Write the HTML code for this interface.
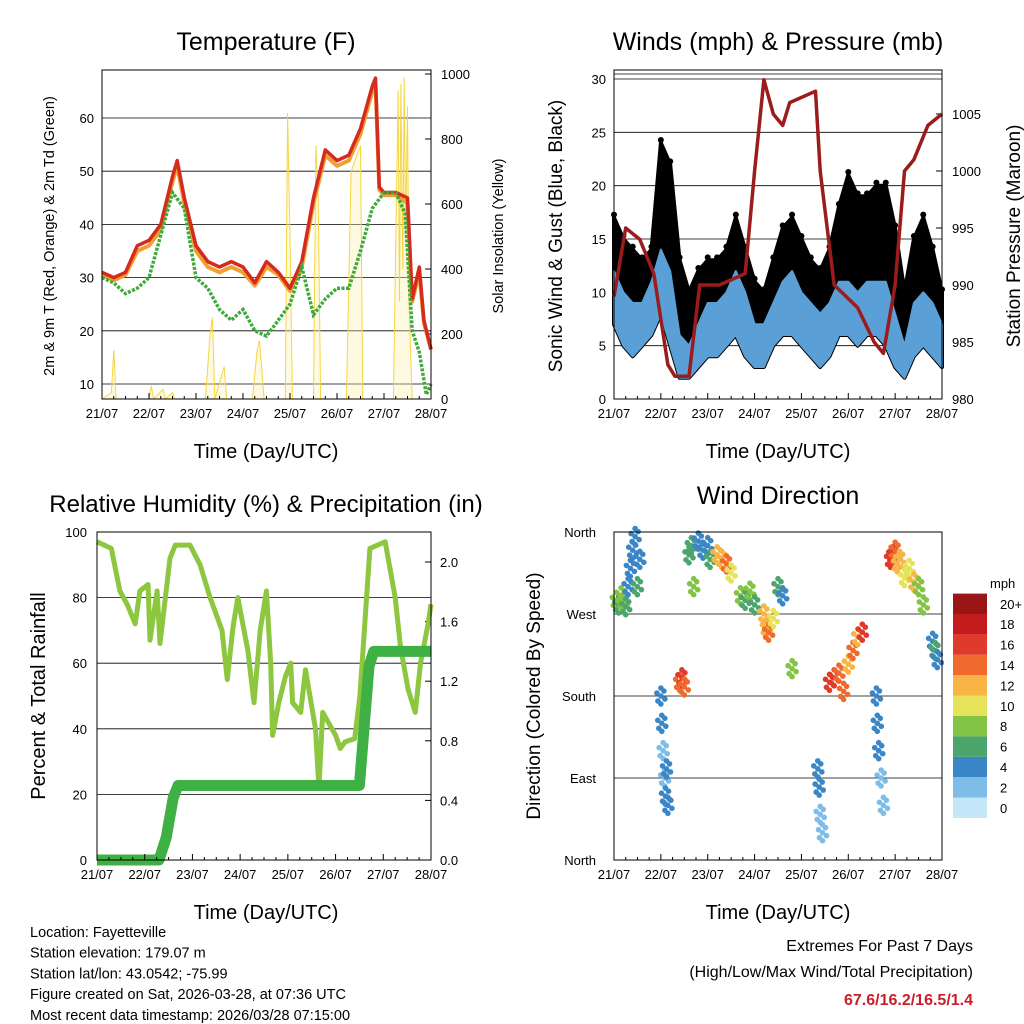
<!DOCTYPE html>
<html><head><meta charset="utf-8"><style>
html,body{margin:0;padding:0;background:#fff;}
svg{display:block;font-family:"Liberation Sans",sans-serif;}
</style></head><body>
<svg id="s" width="1024" height="1024" viewBox="0 0 1024 1024" xmlns="http://www.w3.org/2000/svg">
<rect width="1024" height="1024" fill="#fff"/>
</svg>
<script>
// ---------------- DATA ----------------
const dayLabels = ["21/07","22/07","23/07","24/07","25/07","26/07","27/07","28/07"];
// Temperature panel
const tTimes = [0,0.25,0.5,0.75,1,1.25,1.5,1.6,1.75,2,2.25,2.5,2.75,3,3.25,3.5,3.75,4,4.25,4.5,4.75,5,5.25,5.5,5.75,5.82,5.9,6,6.25,6.5,6.6,6.75,6.85,7];
const tempRed = [31,30,31,36,37,40,49,52,45,36,33,32,33,32,29,33,31,28,33,45,54,52,53,58,66,67.5,47,46,46,45,26,32,22,16.5];
const tempOrange = [30.5,29.5,30.5,35,36,39,48,51,44,35,32,31,32,31,28.5,32,30.5,27.5,32,44,53,51,52,57,65,66.5,46.5,45.5,45.5,44,25.5,31,21.5,16.5];
const dewTimes = [0,0.25,0.5,0.75,1,1.25,1.5,1.75,2,2.25,2.5,2.75,3,3.25,3.5,3.75,4,4.25,4.5,4.75,5,5.25,5.5,5.75,6,6.25,6.45,6.6,6.75,6.9,7];
const dewGreen = [30,29,27,28,30,38,46,43,30,28,24,22,24,20,19,22,25,32,23,26,28,28,35,43,46,46,42,20,16,8,10];
const solarT = [0,0.2,0.25,0.3,0.45,0.5,1.0,1.05,1.1,1.3,1.35,1.5,1.55,2.2,2.3,2.35,2.4,2.6,2.65,3.2,3.3,3.35,3.45,3.5,3.9,3.95,4.0,4.05,4.5,4.55,4.6,4.65,4.8,5.2,5.3,5.45,5.5,5.55,6.2,6.3,6.33,6.36,6.4,6.43,6.46,6.5,6.53,6.6,7.0];
const solarV = [0,20,150,0,0,0,0,40,0,30,0,20,0,0,200,250,0,100,0,0,150,180,0,0,0,880,500,0,0,780,620,0,0,0,700,760,780,0,0,950,300,970,400,990,500,900,300,0,0];
// Wind panel
const wTimes = [0,0.2,0.4,0.6,0.8,1.0,1.2,1.4,1.6,1.8,2.0,2.2,2.4,2.6,2.8,3.0,3.2,3.4,3.6,3.8,4.0,4.2,4.4,4.6,4.8,5.0,5.2,5.4,5.6,5.8,6.0,6.2,6.4,6.6,6.8,7.0];
const windLow = [7,5,4,5,6,8,5,2,2,3,4,4,5,6,4,3,3,5,6,6,5,4,3,4,6,6,5,6,6,5,3,2,4,5,4,3];
const windHigh = [12,10,9,9,11,14,12,6,5,7,9,9,10,12,10,7,7,9,11,12,10,9,8,9,11,11,10,11,11,11,8,5,9,10,9,7];
const gustBlack = [17,15,14,13,14,24,22,13,10,12,13,13,14,17,14,11,10,13,16,17,15,13,12,14,18,21,19,19,20,20,16,10,15,17,14,10];
const pTimes = [0,0.25,0.55,0.85,1.15,1.3,1.6,1.83,2.25,2.8,3.0,3.2,3.4,3.6,3.75,4.3,4.4,4.7,5.2,5.55,5.75,6.0,6.2,6.4,6.7,7];
const pressure = [989,995,994,991,983,982,982,990,990,991,1000,1008,1005,1004,1006,1007,1000,990,988,985,984,990,1000,1001,1004,1005];
// RH panel
const rhTimes = [0,0.3,0.48,0.63,0.8,0.9,1.07,1.11,1.26,1.32,1.53,1.64,1.95,2.16,2.37,2.62,2.73,2.85,2.95,3.16,3.29,3.42,3.55,3.64,3.68,3.81,3.95,4.06,4.1,4.27,4.37,4.58,4.65,4.73,5.0,5.1,5.2,5.4,5.51,5.72,6.04,6.25,6.36,6.52,6.67,6.78,6.94,7];
const rhValues = [97,95,82,78,72,82,84,67,82,66,92,96,96,90,80,70,55,71,80,64,48,70,82,60,38,48,56,60,48,45,58,40,22,45,38,34,36,37,50,95,97,80,65,52,45,60,72,78];
const prTimes = [0,1.3,1.45,1.6,1.7,5.5,5.6,5.7,5.8,7];
const precip = [0,0,0.15,0.42,0.5,0.5,0.9,1.3,1.4,1.4];
// Wind direction panel
const wdDay = [0.05,0.1,0.15,0.2,0.25,0.3,0.35,0.4,0.45,0.5,0.55,1.0,1.02,1.05,1.08,1.1,1.12,1.15,1.4,1.45,1.5,1.6,1.65,1.7,1.8,1.9,2.0,2.05,2.2,2.3,2.4,2.5,2.7,2.8,2.9,3.0,3.2,3.25,3.3,3.4,3.5,3.6,3.8,4.35,4.38,4.4,4.45,4.6,4.7,4.8,4.9,5.0,5.1,5.2,5.3,5.6,5.62,5.65,5.7,5.75,5.9,5.95,6.0,6.05,6.1,6.2,6.3,6.4,6.5,6.6,6.8,6.85,6.9];
const wdDir = [285,280,290,283,278,300,320,340,355,300,330,180,150,120,90,70,100,60,195,200,190,335,345,300,350,340,345,330,335,330,325,315,290,285,295,280,270,255,250,265,300,290,210,100,80,50,30,195,200,205,185,215,230,245,250,180,150,120,90,60,330,335,340,325,330,310,320,305,300,280,240,230,220];
const wdSpeed = [7,6,8,7,6,4,4,3,3,5,3,4,3,2,2,3,4,3,14,15,13,5,6,7,4,4,3,5,11,12,13,10,7,6,8,6,11,12,14,10,5,4,7,4,3,2,2,15,16,13,14,12,13,11,15,4,3,3,2,2,15,16,14,12,11,10,9,11,8,7,4,5,4];
const cbLabels = ["0","2","4","6","8","10","12","14","16","18","20+"];
const cbColors = ["#c3e6f8","#7dbde8","#3b86c6","#4ca56c","#84c444","#e6e25a","#f8b444","#ef6a2c","#df3a2a","#c41c1c","#9a1616"];

// ---------------- HELPERS ----------------
const S = document.getElementById('s');
const NS = "http://www.w3.org/2000/svg";
function mk(tag, attrs, parent){ const e=document.createElementNS(NS,tag); for(const k in attrs) e.setAttribute(k,attrs[k]); (parent||S).appendChild(e); return e; }
function txt(x,y,t,size,anchor,extra){ const e=mk('text',Object.assign({x:x,y:y,'font-size':size,'text-anchor':anchor||'middle',fill:'#000'},extra||{})); e.textContent=t; return e; }
function lin(d0,d1,r0,r1){ return v => r0 + (v-d0)/(d1-d0)*(r1-r0); }
function colorFor(sp){ let i=Math.min(10,Math.max(0,Math.round(sp/2))); return cbColors[i]; }
function path(xs,ys,X,Y){ return xs.map((t,i)=>(i?'L':'M')+X(t).toFixed(1)+' '+Y(ys[i]).toFixed(1)).join(' '); }
function band(xs,lo,hi,X,Y){
  let d=xs.map((t,i)=>(i?'L':'M')+X(t).toFixed(1)+' '+Y(hi[i]).toFixed(1)).join(' ');
  for(let i=xs.length-1;i>=0;i--) d+=' L'+X(xs[i]).toFixed(1)+' '+Y(lo[i]).toFixed(1);
  return d+' Z';
}
function frame(x0,y0,x1,y1,name){
  const r=mk('rect',{x:x0,y:y0,width:x1-x0,height:y1-y0,fill:'none',stroke:'#000','stroke-width':1});
  
  
}
function xAxis(X,yb,name){
  const g=mk('g',{});
  
  
  dayLabels.forEach((l,i)=>{ const x=X(i); mk('line',{x1:x,x2:x,y1:yb,y2:yb-6,stroke:'#000'},g);
    for(let k=1;k<4&&i<7;k++){const xm=X(i+k/4); mk('line',{x1:xm,x2:xm,y1:yb,y2:yb-3,stroke:'#000'},g);}
    const t=txt(x,yb+19,l,13,'middle'); g.appendChild(t);});
}

// ================= PANEL 1: TEMPERATURE =================
(function(){
  const x0=102,x1=431,y0=70,y1=399;
  const X=lin(0,7,x0,x1), Y=lin(10,60,384,118), YS=lin(0,1000,399,74);
  const g=mk('g',{});  
  [10,20,30,40,50,60].forEach(v=>{ mk('line',{x1:x0,x2:x1,y1:Y(v),y2:Y(v),stroke:'#000','stroke-width':0.8},g);
    const t=txt(x0-8,Y(v)+5,String(v),13,'end'); g.appendChild(t);});
  [0,200,400,600,800,1000].forEach(v=>{ mk('line',{x1:x1,x2:x1-6,y1:YS(v),y2:YS(v),stroke:'#000'},g);
    const t=txt(x1+10,YS(v)+5,String(v),13,'start'); g.appendChild(t);});
  const sol=mk('path',{d:path(solarT,solarV,X,YS),fill:'#fbeeaa','fill-opacity':0.35,stroke:'#f5d642','stroke-width':1},g);
   
  const o=mk('path',{d:path(tTimes,tempOrange,X,Y),fill:'none',stroke:'#f0a030','stroke-width':4,'stroke-linejoin':'round'},g);
   
  const r=mk('path',{d:path(tTimes,tempRed,X,Y),fill:'none',stroke:'#d42a20','stroke-width':3.5,'stroke-linejoin':'round'},g);
   
  const dg=mk('path',{d:path(dewTimes,dewGreen,X,Y),fill:'none',stroke:'#3eaa3a','stroke-width':3.5,'stroke-dasharray':'3 1.5'},g);
   
  frame(x0,y0,x1,y1,'temperature-frame');
  xAxis(X,y1,'temperature-x-axis');
  const t1=txt(266,50,'Temperature (F)',25,'middle');  
  const t2=txt(266,458,'Time (Day/UTC)',20,'middle');  
  const t3=txt(0,0,'2m & 9m T (Red, Orange) & 2m Td (Green)',14.5,'middle',{transform:'translate(54,236) rotate(-90)'});  
  const t4=txt(0,0,'Solar Insolation (Yellow)',14.5,'middle',{transform:'translate(503,236) rotate(-90)'});  
})();

// ================= PANEL 2: WINDS =================
(function(){
  const x0=614,x1=942,y0=70,y1=399;
  const X=lin(0,7,x0,x1), Y=lin(0,30,399,79), YP=lin(980,1005,399,114);
  const g=mk('g',{});  
  [5,10,15,20,25,30].forEach(v=>{ mk('line',{x1:x0,x2:x1,y1:Y(v),y2:Y(v),stroke:'#000','stroke-width':0.8},g);});
  mk('line',{x1:x0,x2:x1,y1:74,y2:74,stroke:'#000','stroke-width':0.8},g);
  [0,5,10,15,20,25,30].forEach(v=>{ const t=txt(x0-8,Y(v)+5,String(v),13,'end'); g.appendChild(t);});
  [980,985,990,995,1000,1005].forEach(v=>{ mk('line',{x1:x1,x2:x1-6,y1:YP(v),y2:YP(v),stroke:'#000'},g);
    const t=txt(x1+10,YP(v)+5,String(v),13,'start'); g.appendChild(t);});
  const gb=mk('path',{d:band(wTimes,windLow,gustBlack,X,Y),fill:'#000',stroke:'#000','stroke-width':4,'stroke-linejoin':'round'},g);
   
  wTimes.forEach((t,i)=>{
    const c=mk('circle',{cx:X(t),cy:Y(gustBlack[i])-3,r:3,fill:'#000'},g);
     
  });
  const b=mk('path',{d:band(wTimes,windLow,windHigh,X,Y),fill:'#5a9fd6',stroke:'#5a9fd6','stroke-width':2,'stroke-linejoin':'round'},g);
   
  const p=mk('path',{d:path(pTimes,pressure,X,YP),fill:'none',stroke:'#9b1c1c','stroke-width':3.5,'stroke-linejoin':'round'},g);
   
  frame(x0,y0,x1,y1,'winds-frame');
  xAxis(X,y1,'winds-x-axis');
  const t1=txt(778,50,'Winds (mph) & Pressure (mb)',25,'middle');  
  const t2=txt(778,458,'Time (Day/UTC)',20,'middle');  
  const t3=txt(0,0,'Sonic Wind & Gust (Blue, Black)',19,'middle',{transform:'translate(562,236) rotate(-90)'});  
  const t4=txt(0,0,'Station Pressure (Maroon)',19,'middle',{transform:'translate(1020,236) rotate(-90)'});  
})();

// ================= PANEL 3: RH & PRECIP =================
(function(){
  const x0=97,x1=431,y0=532,y1=860;
  const X=lin(0,7,x0,x1), Y=lin(0,100,860,532), YR=lin(0,2,860,562);
  const g=mk('g',{});  
  [20,40,60,80].forEach(v=>{ mk('line',{x1:x0,x2:x1,y1:Y(v),y2:Y(v),stroke:'#000','stroke-width':0.8},g);});
  [0,20,40,60,80,100].forEach(v=>{ const t=txt(x0-10,Y(v)+5,String(v),13,'end'); g.appendChild(t);});
  [0,0.4,0.8,1.2,1.6,2.0].forEach(v=>{ mk('line',{x1:x1,x2:x1-6,y1:YR(v),y2:YR(v),stroke:'#000'},g);
    const t=txt(x1+9,YR(v)+5,v.toFixed(1),13,'start'); g.appendChild(t);});
  const rh=mk('path',{d:path(rhTimes,rhValues,X,Y),fill:'none',stroke:'#8dc63f','stroke-width':5,'stroke-linejoin':'round'},g);
   
  const pr=mk('path',{d:path(prTimes,precip,X,YR),fill:'none',stroke:'#3fb043','stroke-width':11,'stroke-linejoin':'round'},g);
   
  frame(x0,y0,x1,y1,'humidity-frame');
  xAxis(X,y1,'humidity-x-axis');
  const t1=txt(266,512,'Relative Humidity (%) & Precipitation (in)',24,'middle');  
  const t2=txt(266,919,'Time (Day/UTC)',20,'middle');  
  const t3=txt(0,0,'Percent & Total Rainfall',20,'middle',{transform:'translate(45,696) rotate(-90)'});  
})();

// ================= PANEL 4: WIND DIRECTION =================
(function(){
  const x0=614,x1=942,y0=532,y1=860;
  const X=lin(0,7,x0,x1), Y=lin(0,360,860,532);
  const g=mk('g',{});  
  const dl=[[0,'North'],[90,'East'],[180,'South'],[270,'West'],[360,'North']];
  dl.forEach(([v,l])=>{ if(v>0&&v<360) mk('line',{x1:x0,x2:x1,y1:Y(v),y2:Y(v),stroke:'#000','stroke-width':0.8},g);
    const t=txt(x0-18,Y(v)+5,l,13,'end'); g.appendChild(t);});
  const glyph=[[0,0],[-4,-3],[4,3],[-3,5],[3,-5],[0,-8],[0,8]];
  wdDay.forEach((d,i)=>{
    const cg=mk('g',{transform:'translate('+X(d).toFixed(1)+','+Y(wdDir[i]).toFixed(1)+')'},g);
    
    
    glyph.forEach(o=>mk('circle',{cx:o[0],cy:o[1],r:2.8,fill:colorFor(wdSpeed[i])},cg));
  });
  frame(x0,y0,x1,y1,'wind-direction-frame');
  xAxis(X,y1,'wind-direction-x-axis');
  const t1=txt(778,504,'Wind Direction',25,'middle');  
  const t2=txt(778,919,'Time (Day/UTC)',20,'middle');  
  const t3=txt(0,0,'Direction (Colored By Speed)',19,'middle',{transform:'translate(540,696) rotate(-90)'});  
  const cb=mk('g',{});  
  const bh=20.4, by=818;
  cbColors.forEach((c,i)=>{ const r=mk('rect',{x:953,y:by-(i+1)*bh,width:34,height:bh,fill:c},cb);
     
    const t=txt(1000,by-(i+0.5)*bh+5,cbLabels[i],13,'start'); cb.appendChild(t);});
  const u=txt(990,588,'mph',13,'start');  
})();

// ================= FOOTER =================
const leftLines=["Location: Fayetteville","Station elevation: 179.07 m","Station lat/lon: 43.0542; -75.99","Figure created on Sat, 2026-03-28, at 07:36 UTC","Most recent data timestamp: 2026/03/28 07:15:00"];
leftLines.forEach((l,i)=>{ const t=txt(30,937+i*20.7,l,14.5,'start');  });
const e1=txt(973,951,'Extremes For Past 7 Days',16,'end');  
const e2=txt(973,977,'(High/Low/Max Wind/Total Precipitation)',16,'end');  
const e3=txt(973,1005,'67.6/16.2/16.5/1.4',16,'end',{fill:'#c8202a','font-weight':'bold'});  
</script>
</body></html>
